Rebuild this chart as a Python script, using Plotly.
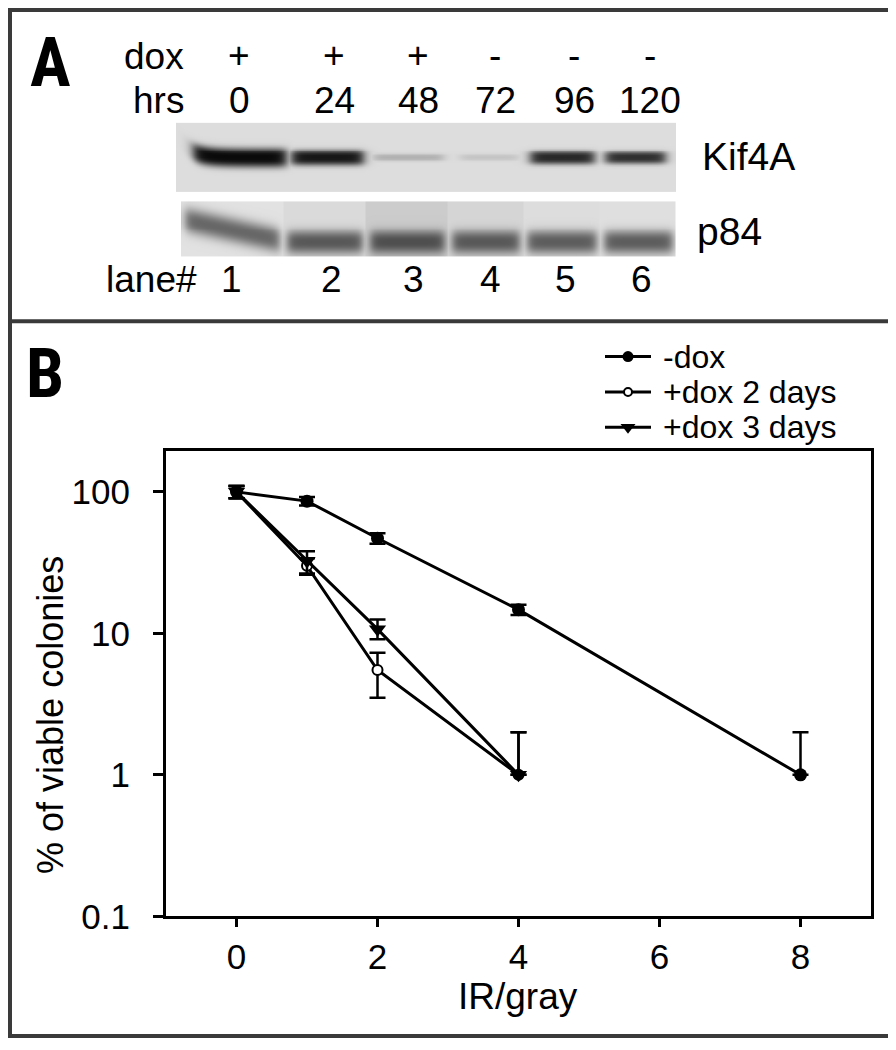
import numpy as np
import plotly.graph_objects as go

# ---------------- data ----------------
# Panel B: clonogenic survival
doses_minus = [0, 1, 2, 4, 8]
surv_minus_dox = [100, 86, 47, 14.7, 1]
err_minus_dox_up = [10, 6, 4, 1.2, 1]
err_minus_dox_dn = [10, 6, 4, 1.2, 0]

doses_plus = [0, 1, 2, 4]
surv_dox2 = [100, 30, 5.5, 1]
err_dox2_up = [10, 4, 1.8, 1]
err_dox2_dn = [10, 4, 2.0, 0]

surv_dox3 = [100, 32.5, 10.7, 1]
err_dox3_up = [10, 5.5, 1.8, 1]
err_dox3_dn = [10, 6.0, 1.6, 0]

series_names = ["-dox", "+dox 2 days", "+dox 3 days"]

x_ticks = [0, 2, 4, 6, 8]
y_ticks = [0.1, 1, 10, 100]
y_ticklabels = ["0.1", "1", "10", "100"]

# Panel A: western blot
lane_numbers = [1, 2, 3, 4, 5, 6]
dox_signs = ["+", "+", "+", "-", "-", "-"]
hours = [0, 24, 48, 72, 96, 120]
kif4a_level = [1.00, 0.95, 0.32, 0.24, 0.88, 0.85]   # band darkness
p84_level = [0.62, 0.68, 0.72, 0.68, 0.66, 0.66]

# ---------------- layout helpers (pixels) ----------------
W, H = 896, 1050
def px(x):
    return x / W
def py(y):
    return 1 - y / H

FONT = "Liberation Sans, Arial, sans-serif"
BIG = "Roboto Condensed, Open Sans Condensed, Liberation Sans Narrow, DejaVu Sans Condensed, Liberation Sans, Arial"

fig = go.Figure()

# ---------------- blot images (aux pixel axis) ----------------
def sig(v):
    return 1.0 / (1.0 + np.exp(-v))

# Kif4A blot
kx = np.arange(168, 668, 2) + 1.0
ky = np.arange(117, 186, 2) + 1.0
KX, KY = np.meshgrid(kx, ky)
kif_spans = [(185, 278), (283, 355), (365, 435), (452, 510), (522, 586), (597, 657)]
kif_thick = [10, 8, 3.5, 3.2, 7, 6.5]
Zk = np.full(KX.shape, 0.14)
for i, (a, b) in enumerate(kif_spans):
    hx = sig((KX - a) / 3) * sig((b - KX) / 3)
    yc = 152 - (6 * np.exp(-(KX - a) / 12) if i == 0 else 0)
    hy = np.exp(-np.abs((KY - yc) / kif_thick[i]) ** 3)
    Zk = np.maximum(Zk, 0.14 + (kif4a_level[i] - 0.14) * hx * hy)
Zk = np.clip(Zk, 0, 1)

# p84 blot
qx = np.arange(173, 668, 2) + 1.0
qy = np.arange(197, 253, 2) + 1.0
QX, QY = np.meshgrid(qx, qy)
p84_spans = [(173, 275), (275, 358), (358, 440), (440, 515), (515, 592), (592, 668)]
p84_bg = [0.12, 0.15, 0.21, 0.17, 0.14, 0.13]
Zp = np.zeros(QX.shape)
for i, (a, b) in enumerate(p84_spans):
    inside = (QX >= a) & (QX < b)
    Zp[inside] = p84_bg[i]
    hx = sig((QX - a - 4) / 2.5) * sig((b - 4 - QX) / 2.5)
    if i == 0:
        yc = np.clip(217 + (QX - 185) * 0.22, 214, 238)
        th = 13
    else:
        yc = 238
        th = 12
    hy = np.exp(-np.abs((QY - yc) / th) ** 2.5)
    Zp = np.where(inside, np.maximum(Zp, p84_bg[i] + (p84_level[i] - p84_bg[i]) * hx * hy), Zp)
Zp = np.clip(Zp, 0, 1)

gray = [[0, "rgb(255,255,255)"], [1, "rgb(10,10,10)"]]
for xs, ys, zz in [(kx, ky, Zk), (qx, qy, Zp)]:
    fig.add_trace(go.Heatmap(x=xs, y=ys, z=zz, colorscale=gray, zmin=0, zmax=1,
                             showscale=False, zsmooth="best", hoverinfo="skip",
                             xaxis="x2", yaxis="y2"))

# ---------------- panel B traces ----------------
def ebar(up, dn):
    return dict(type="data", symmetric=False, array=up, arrayminus=dn,
                color="black", thickness=2.5, width=8)

fig.add_trace(go.Scatter(x=doses_plus, y=surv_dox2, mode="lines+markers", name=series_names[1],
                         line=dict(color="black", width=3),
                         marker=dict(symbol="circle", size=10, color="white",
                                     line=dict(color="black", width=2)),
                         error_y=ebar(err_dox2_up, err_dox2_dn), showlegend=False))
fig.add_trace(go.Scatter(x=doses_plus, y=surv_dox3, mode="lines+markers", name=series_names[2],
                         line=dict(color="black", width=3),
                         marker=dict(symbol="triangle-down", size=15, color="black"),
                         error_y=ebar(err_dox3_up, err_dox3_dn), showlegend=False))
fig.add_trace(go.Scatter(x=doses_minus, y=surv_minus_dox, mode="lines+markers", name=series_names[0],
                         line=dict(color="black", width=3),
                         marker=dict(symbol="circle", size=13, color="black"),
                         error_y=ebar(err_minus_dox_up, err_minus_dox_dn), showlegend=False))

# legend keys (aux pixel axis)
legend_rows = [355, 391, 427]
key_styles = [dict(symbol="circle", size=11, color="black"),
              dict(symbol="circle", size=8, color="white", line=dict(color="black", width=2)),
              dict(symbol="triangle-down", size=13, color="black")]
for r, ms in zip(legend_rows, key_styles):
    fig.add_trace(go.Scatter(x=[597, 643], y=[r, r], mode="lines", line=dict(color="black", width=3),
                             xaxis="x2", yaxis="y2", showlegend=False, hoverinfo="skip"))
    fig.add_trace(go.Scatter(x=[620], y=[r], mode="markers", marker=ms,
                             xaxis="x2", yaxis="y2", showlegend=False, hoverinfo="skip"))

annotations = []
for r, name in zip(legend_rows, series_names):
    annotations.append(dict(x=px(653), y=py(r), xref="paper", yref="paper", text=name,
                            showarrow=False, xanchor="left", yanchor="middle",
                            font=dict(family=FONT, size=32, color="black")))

# panel A texts
sign_x = [231, 326, 410, 487, 566, 642]
lane_x = [223, 323, 405, 482, 557, 633]
def txt(x, y, t, anchor="center", size=37, fam=FONT):
    annotations.append(dict(x=px(x), y=py(y), xref="paper", yref="paper", text=t,
                            showarrow=False, xanchor=anchor, yanchor="middle",
                            font=dict(family=fam, size=size, color="black")))

txt(146, 49, "dox")
txt(150, 94, "hrs")
txt(143, 276, "lane#")
for i in range(6):
    txt(sign_x[i], 48, dox_signs[i])
    txt(sign_x[i], 94, str(hours[i]))
    txt(lane_x[i], 276, str(lane_numbers[i]))
txt(692, 151, "Kif4A", anchor="left", size=39)
txt(687, 228, "p84", anchor="left", size=39)

# panel letters
txt(42, 56, "<b>A</b>", size=68, fam=BIG)
txt(37, 373, "<b>B</b>", size=68, fam=BIG)

# axis titles
annotations.append(dict(x=px(43), y=py(720), xref="paper", yref="paper", text="% of viable colonies",
                        showarrow=False, textangle=-90, xanchor="center", yanchor="middle",
                        font=dict(family=FONT, size=36, color="black")))
annotations.append(dict(x=px(510), y=py(1007), xref="paper", yref="paper", text="IR/gray",
                        showarrow=False, xanchor="center", yanchor="middle",
                        font=dict(family=FONT, size=37, color="black")))

shapes = [
    dict(type="rect", xref="paper", yref="paper", x0=px(2), x1=px(893), y0=py(1047), y1=py(2),
         line=dict(color="#3a3a3a", width=4)),
    dict(type="line", xref="paper", yref="paper", x0=px(2), x1=px(893), y0=py(319), y1=py(319),
         line=dict(color="#3a3a3a", width=4)),
]

fig.update_layout(
    width=W, height=H, margin=dict(l=0, r=0, t=0, b=0),
    paper_bgcolor="white", plot_bgcolor="rgba(0,0,0,0)",
    showlegend=False,
    font=dict(family=FONT, color="black"),
    xaxis=dict(domain=[px(158), px(863)], range=[-1, 9], tickvals=x_ticks,
               ticks="outside", ticklen=8, tickwidth=2.5, tickcolor="black",
               showline=True, mirror=True, linewidth=3, linecolor="black",
               showgrid=False, zeroline=False, tickfont=dict(size=35)),
    yaxis=dict(domain=[py(925), py(451)], type="log", range=[-1, 2.29],
               tickvals=y_ticks, ticktext=y_ticklabels,
               ticks="outside", ticklen=10, tickwidth=2.5, tickcolor="black",
               ticklabelstandoff=16,
               showline=True, mirror=True, linewidth=3, linecolor="black",
               showgrid=False, zeroline=False, tickfont=dict(size=35)),
    xaxis2=dict(domain=[0, 1], range=[0, W], visible=False, fixedrange=True),
    yaxis2=dict(domain=[0, 1], range=[H, 0], visible=False, fixedrange=True),
    annotations=annotations,
    shapes=shapes,
)

fig.write_html("out.html")
